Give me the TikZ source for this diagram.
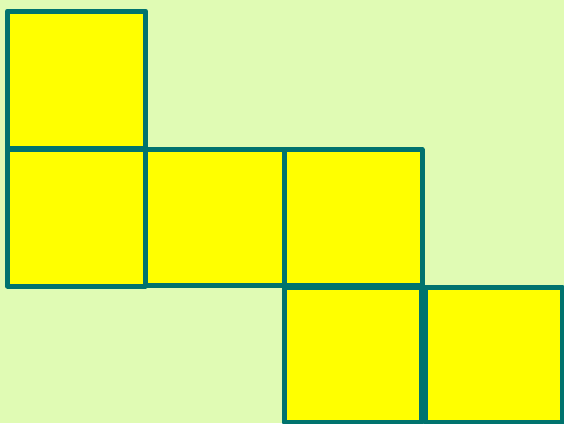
\documentclass[tikz,border=0pt]{standalone}
\definecolor{bg}{HTML}{E0FBB4}
\definecolor{edge}{HTML}{00736E}
\definecolor{fillc}{HTML}{FFFF00}
\tikzset{cell/.style={draw=edge,fill=fillc,line width=5pt,line join=round}}
\begin{document}
\begin{tikzpicture}[x=1pt,y=-1pt]
\fill[bg] (0,0) rectangle (564,423);
\useasboundingbox (0,0) rectangle (564,423);
\draw[cell] (7.5,11) rectangle (145.5,148);
\draw[cell] (7.5,149) rectangle (145,286);
\draw[cell] (145,149.5) rectangle (284,285.5);
\draw[cell] (284,149.5) rectangle (422,285.5);
\draw[cell] (284.5,287) rectangle (421.5,422);
\draw[cell] (425,287.5) rectangle (562.5,422);
\end{tikzpicture}
\end{document}
